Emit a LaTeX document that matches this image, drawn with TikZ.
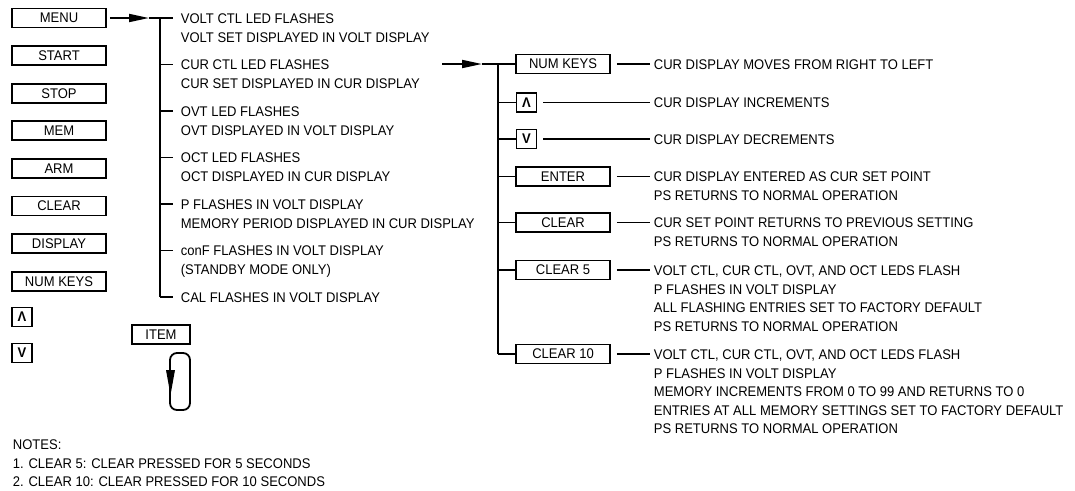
\documentclass[tikz,border=0pt]{standalone}
\usepackage{fontspec}
\setmainfont[FakeStretch=0.93]{Liberation Sans}
\usetikzlibrary{arrows.meta}
\newcommand\fs{\fontsize{14}{18.6}\selectfont}
\begin{document}
\begin{tikzpicture}[x=1pt,y=-1pt,line width=1.8pt,
  key/.style={draw,minimum width=94pt,minimum height=19pt,inner sep=0pt,font=\fs},
  smallkey/.style={draw,minimum width=20pt,minimum height=19pt,inner sep=0pt,font=\fs\bfseries},
  desc/.style={anchor=north west,inner sep=0pt,align=left,font=\fs},
  note/.style={anchor=west,inner sep=0pt,font=\fs},
  tipline/.style={-{Triangle[length=20pt,width=8pt]}}]
\useasboundingbox (0,0) rectangle (1075,490);

% left column keys
\node[key] (menu) at (59,18) {MENU};
\node[key] (start) at (59,55.6) {START};
\node[key] (stop) at (59,93.2) {STOP};
\node[key] (mem) at (59,130.8) {MEM};
\node[key] (arm) at (59,168.4) {ARM};
\node[key] (clearL) at (59,206) {CLEAR};
\node[key] (display) at (59,243.6) {DISPLAY};
\node[key] (numkeysL) at (59,281.2) {NUM KEYS};
\node[smallkey] (upL) at (22,317) {Λ};
\node[smallkey] (downL) at (22,353) {V};

% ITEM loop
\node[key,minimum width=58pt] (item) at (161,334.5) {ITEM};
\draw[rounded corners=7pt] (170,353) rectangle (190,410);
\fill (166,370) -- (175,370) -- (170.5,395) -- cycle;

% menu descriptions
\coordinate (t1top) at (160,18);
\coordinate (t1bot) at (160,297);
\coordinate (menutip) at (149,18);
\foreach \i/\t in {0/{VOLT CTL LED FLASHES\\VOLT SET DISPLAYED IN VOLT DISPLAY},
                  1/{CUR CTL LED FLASHES\\CUR SET DISPLAYED IN CUR DISPLAY},
                  2/{OVT LED FLASHES\\OVT DISPLAYED IN VOLT DISPLAY},
                  3/{OCT LED FLASHES\\OCT DISPLAYED IN CUR DISPLAY},
                  4/{P FLASHES IN VOLT DISPLAY\\MEMORY PERIOD DISPLAYED IN CUR DISPLAY},
                  5/{conF FLASHES IN VOLT DISPLAY\\(STANDBY MODE ONLY)},
                  6/{CAL FLASHES IN VOLT DISPLAY}}{
  \pgfmathsetmacro\yy{18+46.5*\i}
  \node[desc] (m\i) at (180,\yy-5.2) {\t};
  \coordinate (b\i) at (160,\yy);
  \draw (b\i) -- (173,\yy);
}
\draw[tipline] ([xshift=3pt]menu.east) -- (menutip);
\draw (menutip) -- (t1top);
\draw (t1top) -- (t1bot);

% CUR CTL submenu
\coordinate (curstart) at (442,64);
\coordinate (curtip) at (482,64);
\coordinate (t2top) at (498,64);
\draw[tipline] (curstart) -- (curtip);
\draw (curtip) -- (t2top);

\node[key] (numkeys) at (563,64) {NUM KEYS};
\node[smallkey] (up) at (526.5,102.5) {Λ};
\node[smallkey] (down) at (526.5,139) {V};
\node[key] (enter) at (563,176.5) {ENTER};
\node[key] (clear) at (563,222.5) {CLEAR};
\node[key] (clearv) at (563,270) {CLEAR 5};
\node[key] (clearx) at (563,354) {CLEAR 10};

\coordinate (t2bot) at (498,354);
\draw (t2top) -- (t2bot);
\foreach \k in {numkeys,up,down,enter,clear,clearv,clearx}{
  \draw (\k.west -| t2top) -- (\k.west);
}

\node[desc] (d1) at (653,64-5.2) {CUR DISPLAY MOVES FROM RIGHT TO LEFT};
\node[desc] (d2) at (653,102.5-5.2) {CUR DISPLAY INCREMENTS};
\node[desc] (d3) at (653,139-5.2) {CUR DISPLAY DECREMENTS};
\node[desc] (d4) at (653,176.5-5.2) {CUR DISPLAY ENTERED AS CUR SET POINT\\PS RETURNS TO NORMAL OPERATION};
\node[desc] (d5) at (653,222.5-5.2) {CUR SET POINT RETURNS TO PREVIOUS SETTING\\PS RETURNS TO NORMAL OPERATION};
\node[desc] (d6) at (653,270-5.2) {VOLT CTL, CUR CTL, OVT, AND OCT LEDS FLASH\\P FLASHES IN VOLT DISPLAY\\ALL FLASHING ENTRIES SET TO FACTORY DEFAULT\\PS RETURNS TO NORMAL OPERATION};
\node[desc] (d7) at (653,354-5.2) {VOLT CTL, CUR CTL, OVT, AND OCT LEDS FLASH\\P FLASHES IN VOLT DISPLAY\\MEMORY INCREMENTS FROM 0 TO 99 AND RETURNS TO 0\\ENTRIES AT ALL MEMORY SETTINGS SET TO FACTORY DEFAULT\\PS RETURNS TO NORMAL OPERATION};

\foreach \k/\d in {numkeys/d1,up/d2,down/d3,enter/d4,clear/d5,clearv/d6,clearx/d7}{
  \draw ([xshift=6pt]\k.east) -- ([xshift=-3pt]\d.north west |- \k.east);
}

% notes
\node[note] (n0) at (12,445) {NOTES:};
\node[note] (n1) at (12,463.5) {1. CLEAR 5: CLEAR PRESSED FOR 5 SECONDS};
\node[note] (n2) at (12,482) {2. CLEAR 10: CLEAR PRESSED FOR 10 SECONDS};
\end{tikzpicture}
\end{document}
